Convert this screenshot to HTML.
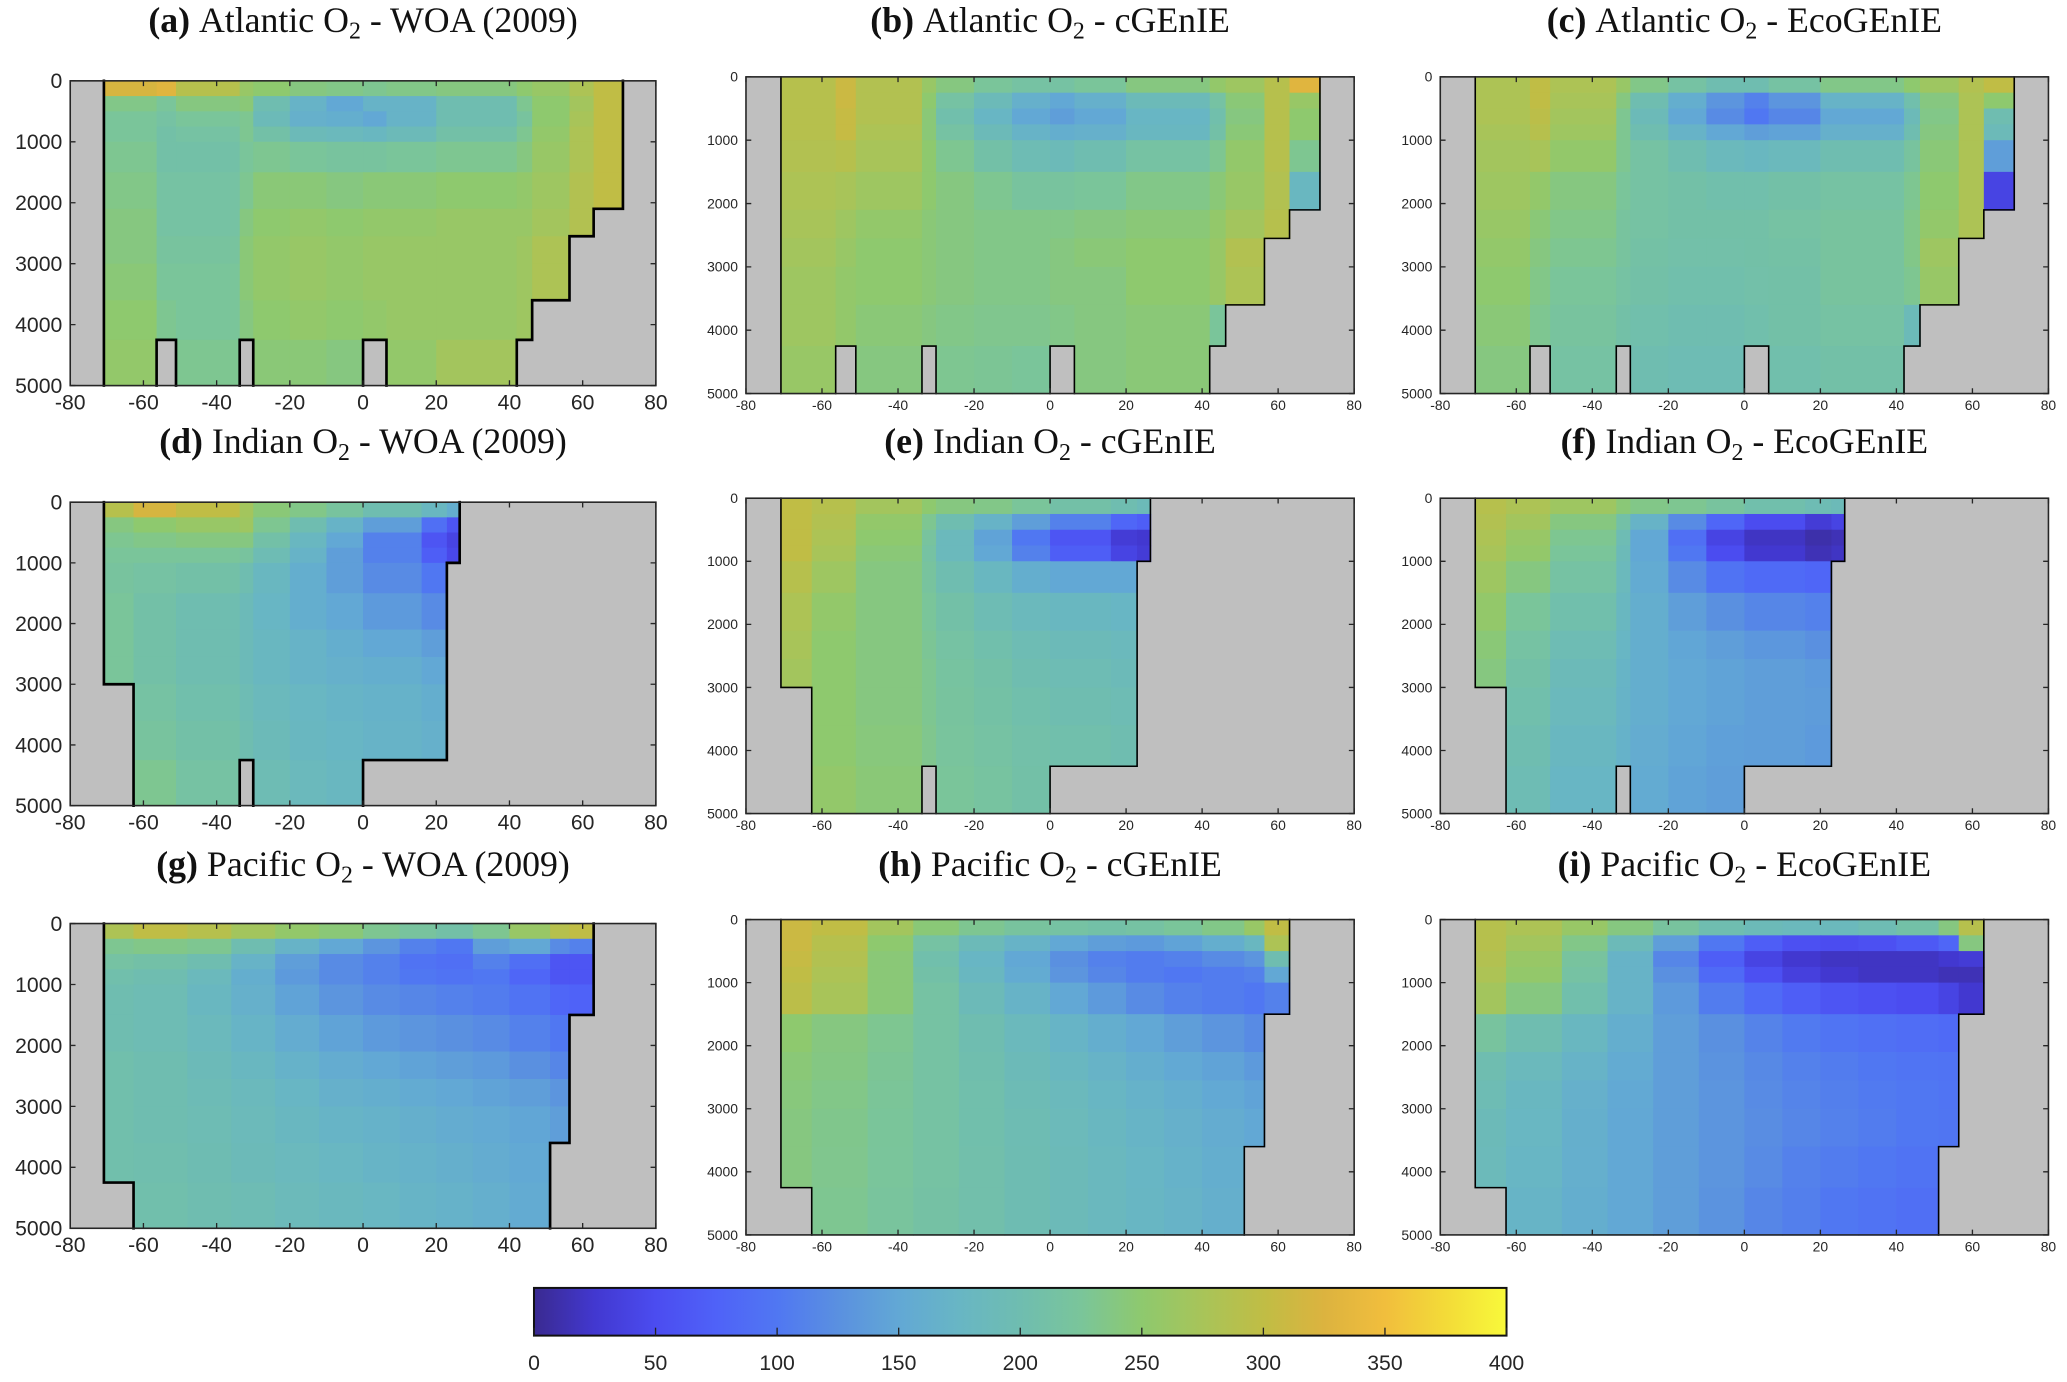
<!DOCTYPE html>
<html><head><meta charset="utf-8">
<style>
html,body{margin:0;padding:0;background:#fff;}
svg{display:block;}
.tl{font-family:"Liberation Sans",sans-serif;fill:#262626;}
.tt{font-family:"Liberation Serif",serif;fill:#111;}
</style></head>
<body>
<svg id="fig" width="2067" height="1382" viewBox="0 0 1560 1043" xmlns="http://www.w3.org/2000/svg">
<defs><linearGradient id="cbg" x1="0" x2="1" y1="0" y2="0"></linearGradient></defs>
<g id="panels"></g>
<g id="cbar"></g>
</svg>
<script>
const L=-1;
const latEdgesAtl=[-80,-70.8,-56.4,-51.1,-33.7,-30,-20,-10,0,6.4,20,42,46.2,56.4,63,71,80];
const latEdgesInd=[-80,-70.8,-62.7,-51.1,-33.7,-30,-20,-10,0,16,22.9,26.4,40,50,60,70,80];
const latEdgesPac=[-80,-70.8,-62.7,-48,-36,-24,-12,0,10,20,30,40,51.1,56.4,63,72,80];
const depthEdges=[0,250,500,750,1000,1500,2100,2550,3000,3600,4250,5000];
const xTicks=[-80,-60,-40,-20,0,20,40,60,80];
const yTicks=[0,1000,2000,3000,4000,5000];
const cbTicks=[0,50,100,150,200,250,300,350,400];
const cmapVals=[0,25,50,75,100,125,150,175,200,225,250,275,300,325,350,375,400];
const cmapCols=["#3a2a90","#4238d0","#4b4cf0","#4f62f8","#5077f2","#5a90e0","#62a8d5","#68b6c4","#6fbdb0","#7ac59a","#8ec96e","#a8c459","#c0bd45","#dcb33f","#f1be3d","#f3db38","#f8f93a"];
const titles=["Atlantic O|2| - WOA (2009)","Atlantic O|2| - cGEnIE","Atlantic O|2| - EcoGEnIE","Indian O|2| - WOA (2009)","Indian O|2| - cGEnIE","Indian O|2| - EcoGEnIE","Pacific O|2| - WOA (2009)","Pacific O|2| - cGEnIE","Pacific O|2| - EcoGEnIE"];
const letters=["(a)","(b)","(c)","(d)","(e)","(f)","(g)","(h)","(i)"];
const panelA=[
[L,320,330,290,260,250,240,235,230,235,240,250,260,280,300,L],
[L,235,225,240,245,200,170,150,170,170,200,230,250,270,300,L],
[L,225,215,225,230,190,165,160,150,170,200,220,250,275,300,L],
[L,225,210,215,230,210,190,185,180,190,210,230,255,280,300,L],
[L,230,210,210,225,230,225,220,220,225,230,240,260,280,300,L],
[L,235,215,215,230,245,245,240,245,245,250,255,265,285,300,L],
[L,240,215,215,240,250,255,250,255,255,260,260,270,285,L,L],
[L,240,220,220,245,255,260,255,260,260,260,265,280,L,L,L],
[L,245,225,225,245,255,260,255,260,260,260,265,280,L,L,L],
[L,250,230,225,240,250,255,250,255,260,260,265,L,L,L,L],
[L,255,L,230,L,245,245,240,L,255,270,L,L,L,L,L]];
const panelB=[
[L,290,310,285,260,240,225,215,215,225,240,255,265,290,330,L],
[L,290,310,285,250,215,190,165,150,165,190,215,245,290,260,L],
[L,290,305,285,245,205,175,150,140,150,175,205,240,290,250,L],
[L,290,305,280,245,215,190,170,160,165,180,210,245,290,250,L],
[L,285,290,275,250,230,210,195,190,200,215,230,255,290,230,L],
[L,280,275,265,250,240,230,220,220,225,235,245,260,285,180,L],
[L,275,265,255,245,240,235,235,235,240,245,255,270,290,L,L],
[L,270,260,250,245,240,235,235,240,245,250,260,285,L,L,L],
[L,265,255,250,245,240,235,235,240,240,250,260,280,L,L,L],
[L,265,255,245,240,235,232,232,235,240,245,225,L,L,L,L],
[L,260,L,240,L,230,228,225,L,240,245,L,L,L,L,L]];
const panelC=[
[L,280,300,280,260,235,215,200,200,215,235,250,265,285,300,L],
[L,280,300,275,240,200,160,130,110,130,170,205,240,280,250,L],
[L,280,295,270,230,190,150,120,100,115,150,190,235,280,200,L],
[L,275,290,265,230,200,170,150,140,145,165,200,240,280,190,L],
[L,270,275,255,230,215,200,185,180,185,200,220,245,280,140,L],
[L,265,255,240,225,215,210,205,205,210,215,230,250,280,40,L],
[L,260,245,235,220,215,210,210,210,215,220,235,255,280,L,L],
[L,255,240,230,220,212,208,208,210,212,220,235,265,L,L,L],
[L,250,235,225,215,210,205,205,208,210,220,230,260,L,L,L],
[L,245,230,220,210,205,200,200,205,210,215,190,L,L,L,L],
[L,240,L,215,L,200,195,195,L,205,210,L,L,L,L,L]];
const panelD=[
[L,290,320,300,270,245,235,220,200,180,160,L,L,L,L,L],
[L,240,250,260,265,230,200,170,140,90,60,L,L,L,L,L],
[L,230,235,240,240,210,180,150,110,60,40,L,L,L,L,L],
[L,225,225,225,220,195,170,140,110,70,45,L,L,L,L,L],
[L,220,215,210,200,180,160,140,120,100,L,L,L,L,L,L],
[L,225,210,200,190,175,160,150,135,120,L,L,L,L,L,L],
[L,225,210,200,190,180,170,160,150,140,L,L,L,L,L,L],
[L,225,210,200,190,180,170,165,160,150,L,L,L,L,L,L],
[L,L,215,205,195,185,178,172,168,160,L,L,L,L,L,L],
[L,L,220,210,200,190,180,175,170,165,L,L,L,L,L,L],
[L,L,230,215,L,195,185,180,L,L,L,L,L,L,L,L]];
const panelE=[
[L,300,290,270,250,240,235,225,210,200,190,L,L,L,L,L],
[L,300,285,255,230,200,170,140,110,80,70,L,L,L,L,L],
[L,300,280,250,220,185,145,100,60,30,25,L,L,L,L,L],
[L,300,275,245,215,185,150,110,70,40,30,L,L,L,L,L],
[L,290,265,240,220,200,180,160,150,150,L,L,L,L,L,L],
[L,280,255,240,225,210,195,185,180,175,L,L,L,L,L,L],
[L,275,250,240,228,215,205,195,190,185,L,L,L,L,L,L],
[L,270,250,240,230,218,210,200,195,190,L,L,L,L,L,L],
[L,L,250,240,230,220,212,205,200,195,L,L,L,L,L,L],
[L,L,250,242,232,222,215,208,205,200,L,L,L,L,L,L],
[L,L,255,245,L,225,218,210,L,L,L,L,L,L,L,L]];
const panelF=[
[L,290,280,265,245,235,230,220,205,195,190,L,L,L,L,L],
[L,285,270,240,210,170,120,80,50,30,40,L,L,L,L,L],
[L,280,260,230,195,150,90,40,20,10,15,L,L,L,L,L],
[L,275,255,225,190,150,100,50,25,15,20,L,L,L,L,L],
[L,265,240,215,185,155,120,95,85,80,L,L,L,L,L,L],
[L,255,225,205,180,160,140,125,115,110,L,L,L,L,L,L],
[L,245,215,195,175,160,148,140,132,125,L,L,L,L,L,L],
[L,240,210,190,172,160,150,145,140,135,L,L,L,L,L,L],
[L,L,205,185,170,160,150,145,140,138,L,L,L,L,L,L],
[L,L,200,180,168,158,148,142,140,135,L,L,L,L,L,L],
[L,L,195,175,L,155,145,140,L,L,L,L,L,L,L,L]];
const panelG=[
[L,280,300,290,270,255,245,230,220,210,230,260,290,300,L,L],
[L,230,235,230,200,170,150,130,110,100,140,150,120,110,L,L],
[L,215,210,200,170,140,120,110,95,90,110,90,60,60,L,L],
[L,205,200,185,160,135,120,110,100,95,100,80,60,60,L,L],
[L,200,195,180,165,145,130,120,115,110,105,95,80,75,L,L],
[L,200,195,185,172,158,145,135,130,125,120,110,100,L,L,L],
[L,205,200,190,180,168,158,150,145,140,135,125,115,L,L,L],
[L,205,200,192,185,175,165,160,155,150,145,140,130,L,L,L],
[L,205,200,195,188,180,172,168,163,158,153,148,140,L,L,L],
[L,205,202,197,190,184,178,172,168,163,158,152,L,L,L,L],
[L,L,205,200,195,188,182,178,172,168,162,155,L,L,L,L]];
const panelH=[
[L,310,300,270,245,230,220,215,210,215,225,235,260,300,L,L],
[L,310,290,250,215,190,170,150,140,135,145,160,180,280,L,L],
[L,305,285,245,205,175,150,125,110,105,110,120,130,200,L,L],
[L,300,280,245,210,180,155,130,115,105,100,105,110,150,L,L],
[L,295,275,245,215,190,170,150,135,120,110,105,100,110,L,L],
[L,250,240,230,215,200,185,172,160,150,140,130,120,L,L,L],
[L,245,238,228,215,202,190,180,170,160,152,145,135,L,L,L],
[L,242,235,226,215,205,194,185,176,168,160,152,145,L,L,L],
[L,240,233,225,215,205,196,188,180,172,165,158,150,L,L,L],
[L,240,232,224,215,206,198,190,182,175,168,160,L,L,L,L],
[L,L,230,222,214,206,198,190,183,176,170,163,L,L,L,L]];
const panelI=[
[L,290,280,260,240,220,200,190,185,185,195,210,240,290,L,L],
[L,290,270,235,190,140,100,70,55,50,55,65,80,240,L,L],
[L,285,260,220,170,115,70,40,25,20,20,20,25,30,L,L],
[L,280,255,215,170,125,85,55,35,25,20,20,15,15,L,L],
[L,270,240,205,170,135,105,85,70,60,55,50,40,25,L,L],
[L,220,200,180,160,140,125,112,103,97,92,88,85,L,L,L],
[L,200,185,170,155,140,128,118,110,105,100,97,95,L,L,L],
[L,195,180,165,152,140,130,120,113,108,103,100,97,L,L,L],
[L,190,178,163,150,140,130,122,115,110,105,100,98,L,L,L],
[L,188,175,162,150,140,130,120,110,105,100,95,L,L,L,L],
[L,L,172,160,150,140,128,115,108,100,95,90,L,L,L,L]];
const panelData=[panelA,panelB,panelC,panelD,panelE,panelF,panelG,panelH,panelI];
const basinEdges=[latEdgesAtl,latEdgesInd,latEdgesPac];

const NS="http://www.w3.org/2000/svg";
function mk(tag,attrs,parent){const e=document.createElementNS(NS,tag);for(const k in attrs)e.setAttribute(k,attrs[k]);if(parent)parent.appendChild(e);return e;}
function hex(c){return [1,3,5].map(i=>parseInt(c.substr(i,2),16));}
function color(v){
  v=Math.max(0,Math.min(400,v));
  for(let i=0;i<cmapVals.length-1;i++){
    if(v<=cmapVals[i+1]){const t=(v-cmapVals[i])/(cmapVals[i+1]-cmapVals[i]);const a=hex(cmapCols[i]),b=hex(cmapCols[i+1]);
      return "rgb("+a.map((x,j)=>Math.round(x+(b[j]-x)*t)).join(",")+")";}
  }
  return cmapCols[cmapCols.length-1];
}
const colX=[[53,495],[563,1022],[1087,1546]];
const rowY=[[[61,291],[58,297]],[[379,608],[376,614]],[[697,927],[694,932]]];
const titleY=[15,333,652];
const root=document.getElementById('panels');
const names=["atlantic-woa","atlantic-cgenie","atlantic-ecogenie","indian-woa","indian-cgenie","indian-ecogenie","pacific-woa","pacific-cgenie","pacific-ecogenie"];
for(let p=0;p<9;p++){
  const r=Math.floor(p/3),c=p%3;
  const latEdges=basinEdges[r];
  const x0=colX[c][0],x1=colX[c][1];
  const yy=rowY[r][c===0?0:1];const y0=yy[0],y1=yy[1];
  const xs=lat=>x0+(lat+80)/160*(x1-x0);
  const ys=d=>y0+d/5000*(y1-y0);
  const g=mk('g',{},root);
  
  
  const bg=mk('rect',{x:x0,y:y0,width:x1-x0,height:y1-y0,fill:'#bfbfbf'},g);
  
  
  const data=panelData[p];
  const cells=mk('g',{},g);
  
  
  for(let i=0;i<data.length;i++)for(let j=0;j<data[i].length;j++){
    const v=data[i][j];if(v<0)continue;
    const xa=xs(latEdges[j]),xb=xs(latEdges[j+1]),ya=ys(depthEdges[i]),yb=ys(depthEdges[i+1]);
    const rc=mk('rect',{x:xa,y:ya,width:xb-xa+0.6,height:yb-ya+0.6,fill:color(v)},cells);
    
    
  }
  const sw=c===0?2:1.2;let dpath="";
  const oc=(i,j)=>i>=0&&i<data.length&&j>=0&&j<data[0].length&&data[i][j]>=0;
  for(let i=0;i<data.length;i++)for(let j=0;j<data[i].length;j++){
    if(!oc(i,j))continue;
    const xa=xs(latEdges[j]),xb=xs(latEdges[j+1]),ya=ys(depthEdges[i]),yb=ys(depthEdges[i+1]);
    if(!oc(i,j-1))dpath+=`M${xa},${ya}V${yb}`;
    if(!oc(i,j+1))dpath+=`M${xb},${ya}V${yb}`;
    if(i>0&&!oc(i-1,j))dpath+=`M${xa},${ya}H${xb}`;
    if(i<data.length-1&&!oc(i+1,j))dpath+=`M${xa},${yb}H${xb}`;
  }
  const cl=mk('path',{d:dpath,stroke:'#000',"stroke-width":sw,fill:'none',"stroke-linecap":"square"},g);
  
  
  const box=mk('rect',{x:x0,y:y0,width:x1-x0,height:y1-y0,fill:'none',stroke:'#262626',"stroke-width":1.2},g);
  
  
  const fs=c===0?16:10.5;
  for(const t of xTicks){
    const x=xs(t);
    const tk=mk('path',{d:`M${x},${y1}v-4M${x},${y0}v4`,stroke:'#262626',"stroke-width":1},g);
    
    
    const tx=mk('text',{x:x,y:y1+fs+2,"font-size":fs,"text-anchor":"middle",class:"tl"},g);
    tx.textContent=t;
    
    
  }
  for(const t of yTicks){
    const y=ys(t);
    const tk=mk('path',{d:`M${x0},${y}h4M${x1},${y}h-4`,stroke:'#262626',"stroke-width":1},g);
    
    
    const tx=mk('text',{x:x0-6,y:y+fs*0.35,"font-size":fs,"text-anchor":"end",class:"tl"},g);
    tx.textContent=t;
    
    
  }
  const parts=titles[p].split('|');
  const tt=mk('text',{x:(x0+x1)/2,y:titleY[r]+9,"font-size":27,"text-anchor":"middle",class:"tt"},g);
  
  
  const b=mk('tspan',{"font-weight":"bold"},tt);b.textContent=letters[p]+" ";
  const s1=mk('tspan',{},tt);s1.textContent=parts[0];
  const s2=mk('tspan',{"font-size":18,dy:5},tt);s2.textContent=parts[1];
  const s3=mk('tspan',{dy:-5},tt);s3.textContent=parts[2];
}
const grad=document.getElementById('cbg');
for(let i=0;i<cmapVals.length;i++){mk('stop',{offset:(cmapVals[i]/400*100)+"%","stop-color":cmapCols[i]},grad);}
const cb=document.getElementById('cbar');
const cx0=403,cx1=1137,cy0=972,cy1=1008;
const cs=v=>cx0+v/400*(cx1-cx0);
const cr=mk('rect',{x:cx0,y:cy0,width:cx1-cx0,height:cy1-cy0,fill:'url(#cbg)',stroke:'#111',"stroke-width":1.5},cb);


for(const t of cbTicks){
  const x=cs(t);
  const tk=mk('path',{d:`M${x},${cy1}v-6`,stroke:'#222',"stroke-width":1},cb);
  
  
  const tx=mk('text',{x:x,y:1034,"font-size":16,"text-anchor":"middle",class:"tl",fill:"#444"},cb);
  tx.textContent=t;
  
  
}
</script>
</body></html>
